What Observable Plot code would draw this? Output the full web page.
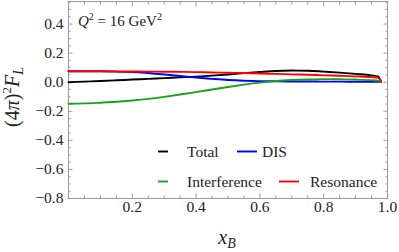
<!DOCTYPE html>
<html>
<head>
<meta charset="utf-8">
<script src="https://cdn.jsdelivr.net/npm/d3@7"></script>
<script src="https://cdn.jsdelivr.net/npm/@observablehq/plot@0.6"></script>
<style>
  html, body { margin: 0; padding: 0; background: #fff; }
  #chart svg { display: block; }
</style>
</head>
<body>
<div id="chart"></div>
<script>
// ---- data ----
const xB = [0, 0.05, 0.1, 0.15, 0.2, 0.25, 0.3, 0.35, 0.4, 0.45, 0.5, 0.55, 0.6, 0.65, 0.7, 0.75, 0.8, 0.85, 0.9, 0.95, 0.97, 0.98];
const total = [0.000, 0.004, 0.008, 0.013, 0.018, 0.023, 0.028, 0.033, 0.038, 0.045, 0.053, 0.062, 0.070, 0.077, 0.080, 0.079, 0.073, 0.066, 0.057, 0.047, 0.040, 0.004];
const dis = [0.075, 0.075, 0.075, 0.073, 0.069, 0.063, 0.053, 0.043, 0.032, 0.023, 0.015, 0.010, 0.007, 0.006, 0.005, 0.005, 0.004, 0.004, 0.003, 0.003, 0.003, 0.002];
const interference = [-0.148, -0.146, -0.141, -0.135, -0.126, -0.115, -0.101, -0.085, -0.068, -0.050, -0.033, -0.017, -0.003, 0.008, 0.015, 0.019, 0.021, 0.020, 0.018, 0.014, 0.011, 0.002];
const resonance = [0.075, 0.075, 0.075, 0.074, 0.074, 0.073, 0.072, 0.071, 0.069, 0.067, 0.065, 0.063, 0.060, 0.057, 0.054, 0.051, 0.047, 0.044, 0.040, 0.035, 0.031, 0.004];

const seriesNames = ["Total", "DIS", "Interference", "Resonance"];
const seriesValues = [total, dis, interference, resonance];
const seriesColors = ["#000000", "#0000ff", "#1aa31a", "#ff0000"];

const xMajor = [0.2, 0.4, 0.6, 0.8, 1.0];
const yMajor = [-0.8, -0.6, -0.4, -0.2, 0.0, 0.2, 0.4];
const xMinor = d3.range(0, 21).map(i => i * 0.05).filter(v => !xMajor.some(m => Math.abs(m - v) < 1e-9));
const yMinor = d3.range(-16, 12).map(i => i * 0.05).filter(v => !yMajor.some(m => Math.abs(m - v) < 1e-9));

const rows = [];
seriesNames.forEach((name, s) => {
  xB.forEach((x, i) => rows.push({series: name, x, y: seriesValues[s][i]}));
});

const fmt = d => d.toFixed(1).replace("-", "\u2212");
const frameColor = "#9a9a9a";
const M = 4.5, m = 2.5;
const serif = "'Liberation Serif', 'Times New Roman', serif";
const noText = {tickFormat: () => "", fill: "none", stroke: frameColor, label: null};

const plot = Plot.plot({
  width: 399,
  height: 252,
  marginLeft: 68,
  marginRight: 12,
  marginTop: 1,
  marginBottom: 54,
  style: {background: "#fff"},
  x: {domain: [0, 1], axis: null},
  y: {domain: [-0.8, 0.555], axis: null},
  color: {domain: seriesNames, range: seriesColors},
  marks: [
    Plot.frame({stroke: frameColor}),
    // inward ticks: left & right
    Plot.axisY({anchor: "left", ticks: yMajor, tickSize: M, dx: M, ...noText}),
    Plot.axisY({anchor: "left", ticks: yMinor, tickSize: m, dx: m, ...noText}),
    Plot.axisY({anchor: "right", ticks: yMajor, tickSize: M, dx: -M, ...noText}),
    Plot.axisY({anchor: "right", ticks: yMinor, tickSize: m, dx: -m, ...noText}),
    // inward ticks: bottom & top
    Plot.axisX({anchor: "bottom", ticks: xMajor, tickSize: M, dy: -M, ...noText}),
    Plot.axisX({anchor: "bottom", ticks: xMinor, tickSize: m, dy: -m, ...noText}),
    Plot.axisX({anchor: "top", ticks: xMajor, tickSize: M, dy: M, ...noText}),
    Plot.axisX({anchor: "top", ticks: xMinor, tickSize: m, dy: m, ...noText}),
    // tick labels
    Plot.text(yMajor, {y: d => d, frameAnchor: "left", dx: -5, textAnchor: "end", text: fmt,
      fontFamily: serif, fontSize: 15.5, fill: "#222"}),
    Plot.text(xMajor, {x: d => d, frameAnchor: "bottom", dy: 13, text: fmt,
      fontFamily: serif, fontSize: 15.5, fill: "#222"}),
    // curves
    Plot.line(rows, {x: "x", y: "y", z: "series", stroke: "series", strokeWidth: 1.9, curve: "monotone-x"})
  ]
});

document.getElementById("chart").appendChild(plot);

// ---- annotations: axis labels, in-plot title, legend ----
const svg = d3.select(plot);

// y label
const yl = svg.append("text")
  .attr("transform", "translate(19,97) rotate(-90)")
  .attr("text-anchor", "middle")
  .attr("font-family", serif).attr("font-size", 20).attr("fill", "#222");
yl.append("tspan").text("(4");
yl.append("tspan").attr("font-style", "italic").text("\u03c0");
yl.append("tspan").text(")");
yl.append("tspan").attr("font-size", 13).attr("dy", -8).text("2");
yl.append("tspan").attr("font-style", "italic").attr("dy", 8).text("F");
yl.append("tspan").attr("font-style", "italic").attr("font-size", 14).attr("dy", 4).text("L");

// x label
const xl = svg.append("text")
  .attr("x", 227).attr("y", 244)
  .attr("text-anchor", "middle")
  .attr("font-family", serif).attr("font-size", 20).attr("fill", "#222");
xl.append("tspan").attr("font-style", "italic").text("x");
xl.append("tspan").attr("font-style", "italic").attr("font-size", 14).attr("dy", 4).text("B");

// title inside plot
const tt = svg.append("text")
  .attr("x", 78).attr("y", 26)
  .attr("text-anchor", "start")
  .attr("font-family", serif).attr("font-size", 15).attr("fill", "#222");
tt.append("tspan").attr("font-style", "italic").text("Q");
tt.append("tspan").attr("font-size", 10).attr("dy", -6).text("2");
tt.append("tspan").attr("dy", 6).text(" = 16 GeV");
tt.append("tspan").attr("font-size", 10).attr("dy", -6).text("2");

// legend
const legendItems = [
  {name: seriesNames[0], color: seriesColors[0], x1: 158, x2: 168, tx: 187, y: 151.5},
  {name: seriesNames[1], color: seriesColors[1], x1: 237, x2: 257, tx: 262, y: 151.5},
  {name: seriesNames[2], color: seriesColors[2], x1: 158, x2: 168, tx: 187, y: 181.5},
  {name: seriesNames[3], color: seriesColors[3], x1: 279, x2: 299, tx: 310, y: 181.5}
];
const lg = svg.append("g");
legendItems.forEach(d => {
  lg.append("line").attr("x1", d.x1).attr("x2", d.x2).attr("y1", d.y).attr("y2", d.y)
    .attr("stroke", d.color).attr("stroke-width", 1.9);
  lg.append("text").attr("x", d.tx).attr("y", d.y + 5.3)
    .attr("text-anchor", "start")
    .attr("font-family", serif).attr("font-size", 15.5).attr("fill", "#222").text(d.name);
});
</script>
</body>
</html>
